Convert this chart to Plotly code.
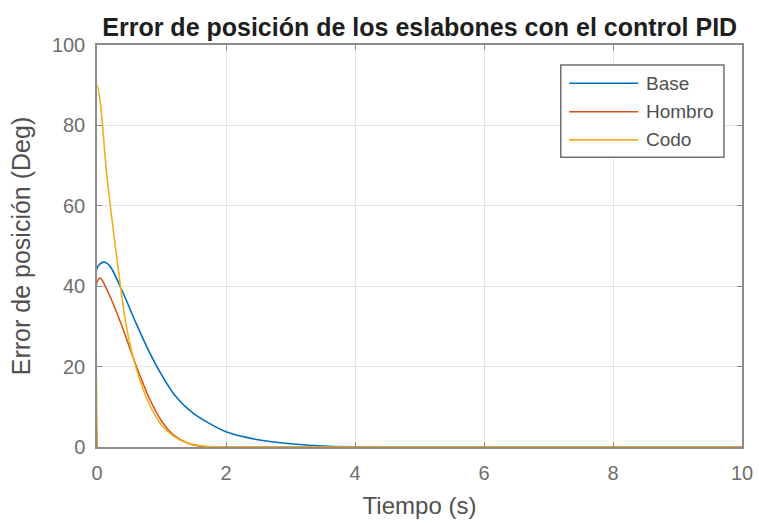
import plotly.graph_objects as go

# Data
t_base = [0, 0.001, 0.1, 0.2, 0.4, 0.6, 0.8, 1.0, 1.2, 1.5, 2.0, 2.5, 3.0, 3.6, 5, 10]
e_base = [0, 44.5, 46, 45, 38.5, 31, 24, 18, 13, 8.3, 3.8, 1.8, 0.8, 0.2, 0, 0]

t_hombro = [0, 0.001, 0.05, 0.2, 0.4, 0.6, 0.8, 1.0, 1.2, 1.4, 1.6, 1.9, 3, 10]
e_hombro = [0, 41, 42, 37.5, 29.5, 20.5, 12.5, 6.5, 2.8, 1.0, 0.2, 0, 0, 0]

t_codo = [0, 0.001, 0.05, 0.15, 0.3, 0.45, 0.6, 0.8, 1.0, 1.2, 1.4, 1.7, 2.0, 3, 10]
e_codo = [0, 90, 86, 68, 48, 30.5, 20, 11, 5.5, 2.6, 1.0, 0.15, 0, 0, 0]

names = ["Base", "Hombro", "Codo"]
colors = ["#0072BD", "#D95319", "#EDB120"]

title = "Error de posición de los eslabones con el control PID"
xlabel = "Tiempo (s)"
ylabel = "Error de posición (Deg)"

FONT = "Liberation Sans, Arial, Helvetica"

fig = go.Figure()
for t, e, n, c in zip([t_base, t_hombro, t_codo], [e_base, e_hombro, e_codo], names, colors):
    fig.add_trace(go.Scatter(x=t, y=e, mode="lines", name=n, showlegend=False,
                             line=dict(color=c, width=1.6, shape="spline", smoothing=0.8)))

axis_common = dict(
    showline=True, linecolor="#8c8c8c", linewidth=1.5, mirror="ticks",
    ticks="inside", ticklen=5, tickcolor="#8c8c8c",
    showgrid=True, gridcolor="#e4e4e4", gridwidth=1, zeroline=False,
    automargin=False,
    tickfont=dict(family=FONT, size=20, color="#6e6e6e"),
)

fig.update_layout(
    width=759, height=523,
    margin=dict(l=97, r=17, t=45, b=76, autoexpand=False),
    paper_bgcolor="white", plot_bgcolor="white",
    title=dict(text="<b>" + title + "</b>", x=0.553, xanchor="center", y=0.948, yanchor="middle",
               font=dict(family=FONT, size=25, color="#1e1e1e")),
    xaxis=dict(range=[0, 10], tickvals=[0, 2, 4, 6, 8, 10], ticklabelstandoff=7,
               title=dict(text=xlabel, standoff=14,
                          font=dict(family=FONT, size=24, color="#505050")),
               **axis_common),
    yaxis=dict(range=[0, 100], tickvals=[0, 20, 40, 60, 80, 100], ticklabelstandoff=6,
               title=dict(text=ylabel, standoff=14,
                          font=dict(family=FONT, size=25, color="#505050")),
               **axis_common),
    showlegend=False,
)

# Custom legend (MATLAB-style box with long line samples)
lx0, lx1, ly0, ly1 = 0.719, 0.972, 0.721, 0.950
fig.add_shape(type="rect", xref="paper", yref="paper", x0=lx0, x1=lx1, y0=ly0, y1=ly1,
              line=dict(color="#707070", width=1.5), fillcolor="white", layer="above")
rows = [0.905, 0.834, 0.764]
for n, c, yy in zip(names, colors, rows):
    fig.add_shape(type="line", xref="paper", yref="paper", x0=0.732, x1=0.839, y0=yy, y1=yy,
                  line=dict(color=c, width=1.6), layer="above")
    fig.add_annotation(xref="paper", yref="paper", x=0.848, y=yy, text=n, showarrow=False,
                       xanchor="left", yanchor="middle",
                       font=dict(family=FONT, size=19, color="#505050"))

fig.write_html("out.html")
